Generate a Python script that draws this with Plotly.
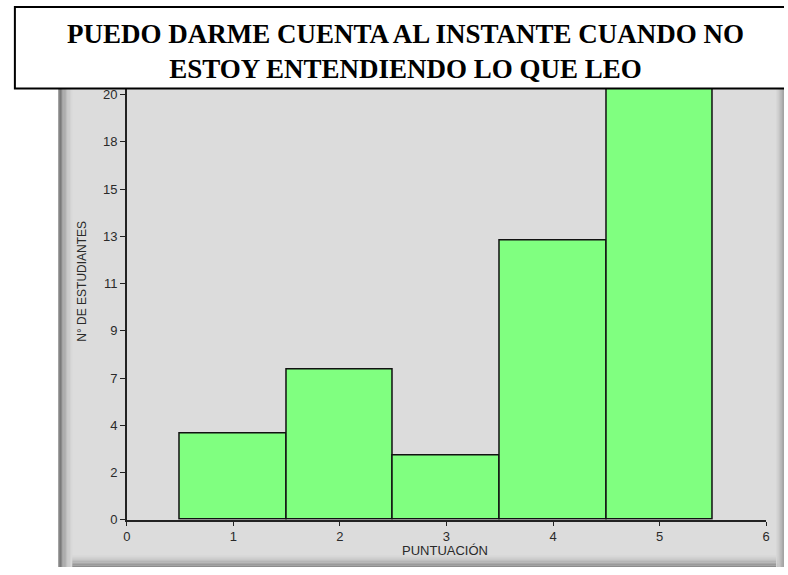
import plotly.graph_objects as go

W, H = 788, 575

# Data
puntuacion = [1, 2, 3, 4, 5]
estudiantes = [4, 7, 3, 13, 21]
ytick_vals = [0, 2.2, 4.4, 6.6, 8.8, 11.0, 13.2, 15.4, 17.6, 19.8]
ytick_text = ["0", "2", "4", "7", "9", "11", "13", "15", "18", "20"]
xtick_vals = [0, 1, 2, 3, 4, 5, 6]

title_text = "<b>PUEDO DARME CUENTA AL INSTANTE CUANDO NO<br>ESTOY ENTENDIENDO LO QUE LEO</b>"
x_title = "PUNTUACIÓN"
y_title = "N° DE ESTUDIANTES"

def px(x):
    return x / W

def py(y):
    return 1 - y / H

plot_l, plot_r, plot_t, plot_b = 124, 770, 89, 527

fig = go.Figure()
fig.add_trace(go.Bar(
    x=puntuacion, y=estudiantes, width=1,
    marker=dict(color="#80FF80", line=dict(color="#111111", width=1.5)),
    showlegend=False, hoverinfo="x+y",
))

shapes = []
panel_bg = "#DCDCDC"
shapes.append(dict(type="rect", xref="paper", yref="paper", layer="below",
                   x0=px(55), x1=1, y0=0, y1=py(88),
                   fillcolor=panel_bg, line=dict(width=0)))
left_cols = ["#6a6a6a", "#7a7a7a", "#8a8a8a", "#999999", "#a6a6a6", "#b2b2b2",
             "#bcbcbc", "#c5c5c5", "#cdcdcd", "#d3d3d3", "#d8d8d8"]
for i, c in enumerate(left_cols):
    shapes.append(dict(type="rect", xref="paper", yref="paper", layer="below",
                       x0=px(55 + i * 1.3), x1=px(55 + (i + 1) * 1.3), y0=0, y1=py(88),
                       fillcolor=c, line=dict(width=0)))
bot_cols = ["#d8d8d8", "#d2d2d2", "#cacaca", "#c0c0c0", "#b5b5b5", "#a8a8a8", "#9a9a9a", "#8c8c8c"]
for i, c in enumerate(bot_cols):
    shapes.append(dict(type="rect", xref="paper", yref="paper", layer="below",
                       x0=px(55 + 14), x1=1, y0=py(563 + i * 1.5), y1=py(563 + (i + 1) * 1.5),
                       fillcolor=c, line=dict(width=0)))
right_cols = ["#d6d6d6", "#cfcfcf", "#c6c6c6", "#bcbcbc", "#b0b0b0", "#a4a4a4"]
for i, c in enumerate(right_cols):
    shapes.append(dict(type="rect", xref="paper", yref="paper", layer="below",
                       x0=px(780 + i * 1.3), x1=min(1, px(780 + (i + 1) * 1.4)), y0=0, y1=py(88),
                       fillcolor=c, line=dict(width=0)))
# title box: white fill, border on top/left/bottom (right side runs off the page)
shapes.append(dict(type="rect", xref="paper", yref="paper", layer="above",
                   x0=px(11), x1=1, y0=py(89), y1=py(6),
                   fillcolor="white", line=dict(width=0)))
shapes.append(dict(type="path", xref="paper", yref="paper", layer="above",
                   path=f"M 1,{py(6)} L {px(11)},{py(6)} L {px(11)},{py(89)} L 1,{py(89)}",
                   line=dict(color="black", width=2)))

fig.update_layout(
    width=W, height=H,
    margin=dict(l=0, r=0, t=0, b=0),
    paper_bgcolor="white",
    plot_bgcolor=panel_bg,
    bargap=0,
    shapes=shapes,
    font=dict(family="Liberation Sans, Arial, sans-serif", size=13, color="#2a2a2a"),
    xaxis=dict(
        domain=[px(plot_l), px(plot_r)], range=[0, 6],
        tickmode="array", tickvals=xtick_vals,
        ticks="outside", ticklen=4, tickcolor="#222222", tickwidth=1,
        showline=True, linecolor="#222222", linewidth=1.5,
        showgrid=False, zeroline=False,
    ),
    yaxis=dict(
        domain=[py(plot_b), py(plot_t)], range=[0, (plot_b - plot_t) * 2.2 / 48],
        tickmode="array", tickvals=ytick_vals, ticktext=ytick_text,
        ticks="outside", ticklen=5, tickcolor="#222222", tickwidth=1,
        showline=True, linecolor="#222222", linewidth=1.5,
        showgrid=False, zeroline=False,
    ),
    annotations=[
        dict(text=title_text, xref="paper", yref="paper",
             x=px(406), y=py(51), xanchor="center", yanchor="middle",
             showarrow=False, align="center",
             font=dict(family="Liberation Serif", size=27, color="black")),
        dict(text=x_title, xref="paper", yref="paper",
             x=px(446), y=py(558), xanchor="center", yanchor="middle",
             showarrow=False, font=dict(size=13, color="#2a2a2a")),
        dict(text=y_title, xref="paper", yref="paper", textangle=-90,
             x=px(78), y=py(285), xanchor="center", yanchor="middle",
             showarrow=False, font=dict(size=12, color="#2a2a2a")),
    ],
)

fig.write_html(
    "out.html",
    config={"displayModeBar": False},
    post_script=(
        "document.documentElement.style.margin='0';"
        "document.documentElement.style.overflow='hidden';"
        "document.body.style.margin='0';document.body.style.padding='0';"
        "document.body.style.overflow='hidden';"
    ),
)
